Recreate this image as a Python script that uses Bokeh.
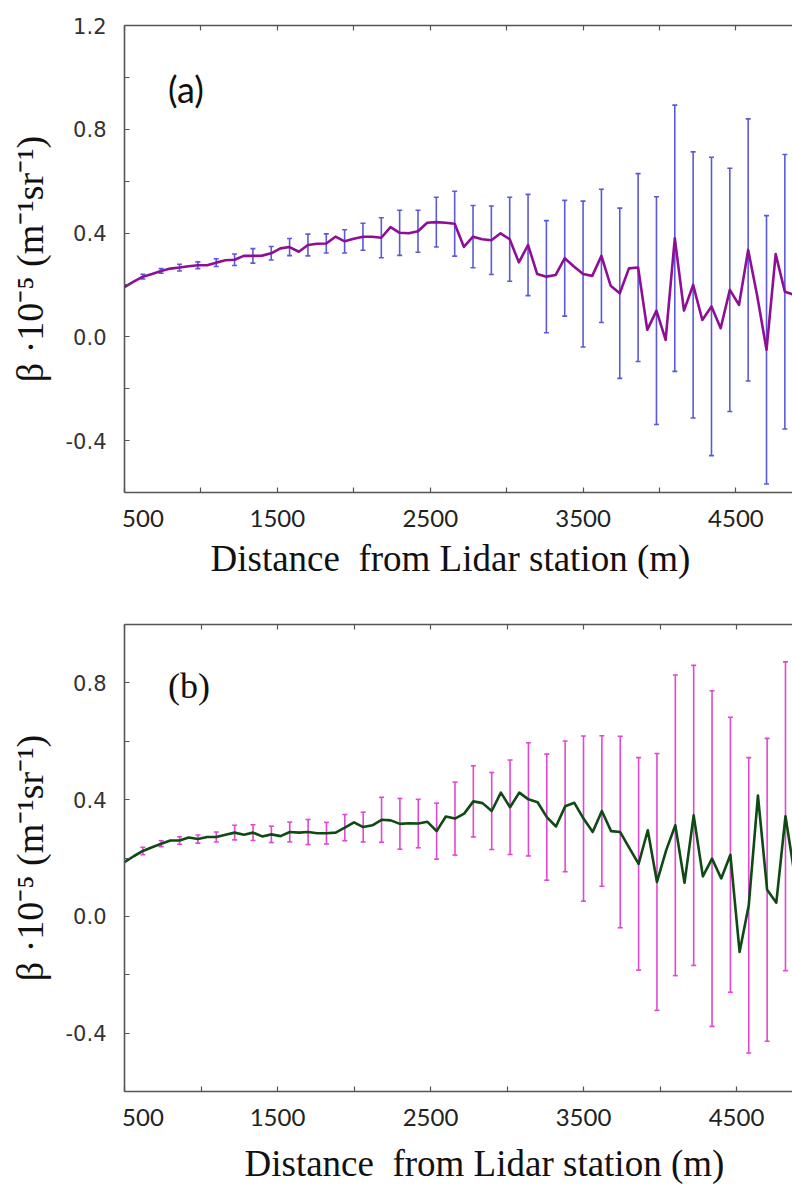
from bokeh.plotting import figure
from bokeh.layouts import column
from bokeh.models import FixedTicker, LinearAxis, Range1d, Label, Title, PrintfTickFormatter, ColumnDataSource
from bokeh.embed import file_html
from bokeh.resources import INLINE

# ---------------- data ----------------
step = 60
start = 500
n_pts = 74
distance = [start + step * i for i in range(n_pts)]

beta_a = [0.192, 0.213, 0.232, 0.242, 0.254, 0.263, 0.267, 0.272, 0.276, 0.276,
          0.286, 0.295, 0.297, 0.312, 0.312, 0.313, 0.322, 0.341, 0.346, 0.328,
          0.354, 0.359, 0.360, 0.386, 0.368, 0.378, 0.386, 0.386, 0.382, 0.423,
          0.401, 0.399, 0.407, 0.440, 0.442, 0.440, 0.436, 0.347, 0.386, 0.376,
          0.372, 0.399, 0.376, 0.287, 0.354, 0.242, 0.232, 0.238, 0.303, 0.271,
          0.242, 0.235, 0.312, 0.197, 0.168, 0.264, 0.267, 0.027, 0.101, -0.012,
          0.380, 0.101, 0.200, 0.065, 0.117, 0.033, 0.181, 0.123, 0.335, 0.155,
          -0.050, 0.319, 0.174, 0.162]

beta_b = [0.186, 0.206, 0.224, 0.237, 0.249, 0.260, 0.260, 0.270, 0.265, 0.272,
          0.272, 0.280, 0.287, 0.280, 0.287, 0.274, 0.281, 0.275, 0.289, 0.287,
          0.289, 0.285, 0.285, 0.287, 0.304, 0.322, 0.306, 0.312, 0.331, 0.329,
          0.317, 0.319, 0.318, 0.324, 0.292, 0.342, 0.335, 0.352, 0.394, 0.388,
          0.361, 0.424, 0.374, 0.424, 0.401, 0.391, 0.340, 0.308, 0.377, 0.389,
          0.335, 0.289, 0.361, 0.292, 0.289, 0.234, 0.180, 0.295, 0.118, 0.226,
          0.312, 0.115, 0.346, 0.137, 0.198, 0.130, 0.211, -0.122, 0.038, 0.414,
          0.091, 0.047, 0.343, 0.140]

# error bars at every second point, starting with the third one
bar_index = list(range(2, 73, 2))
err_a = [0.009, 0.009, 0.013, 0.013, 0.015, 0.022, 0.028, 0.026, 0.033, 0.042,
         0.037, 0.045, 0.052, 0.077, 0.087, 0.081, 0.096, 0.125, 0.120, 0.132,
         0.162, 0.195, 0.216, 0.223, 0.281, 0.257, 0.328, 0.362, 0.439, 0.513,
         0.513, 0.575, 0.469, 0.505, 0.517, 0.529]
err_b = [0.013, 0.010, 0.013, 0.014, 0.017, 0.025, 0.027, 0.028, 0.034, 0.043,
         0.037, 0.045, 0.051, 0.077, 0.087, 0.083, 0.096, 0.125, 0.122, 0.132,
         0.162, 0.194, 0.216, 0.224, 0.283, 0.258, 0.328, 0.364, 0.440, 0.515,
         0.514, 0.575, 0.471, 0.506, 0.519, 0.529]

x_major = [500, 1500, 2500, 3500, 4500]
x_minor = [1000, 2000, 3000, 4000]
x_all = [500, 1000, 1500, 2000, 2500, 3000, 3500, 4000, 4500]
y_major_a = [-0.4, 0.0, 0.4, 0.8, 1.2]
y_minor_a = [-0.6, -0.2, 0.2, 0.6, 1.0]
y_major_b = [-0.4, 0.0, 0.4, 0.8]
y_minor_b = [-0.6, -0.2, 0.2, 0.6, 1.0]

NBSP = "\u00a0"
x_title = "Distance" + NBSP + " from Lidar station (m)"
y_title = "\u03b2 \u00b710\u207b\u2075 (m\u207b\u00b9sr\u207b\u00b9)"

AXIS_COL = "#555555"


def style_axes(p, ymaj, ymin):
    for ax in p.xaxis:
        ax.ticker = FixedTicker(ticks=x_major, minor_ticks=x_minor)
    for ax in p.yaxis:
        ax.ticker = FixedTicker(ticks=ymaj, minor_ticks=ymin)
    # mirror ticks along the top edge (minor ticks only: no labels)
    top = LinearAxis(ticker=FixedTicker(ticks=[], minor_ticks=x_all))
    p.add_layout(top, "above")
    for ax in list(p.xaxis) + list(p.yaxis):
        ax.axis_line_color = AXIS_COL
        ax.axis_line_width = 1.6
        ax.major_tick_line_color = AXIS_COL
        ax.minor_tick_line_color = AXIS_COL
        ax.major_tick_in = 5
        ax.major_tick_out = 0
        ax.minor_tick_in = 5
        ax.minor_tick_out = 0
        ax.major_tick_line_width = 1.2
        ax.minor_tick_line_width = 1.2
    top.major_label_standoff = 0
    xa = p.below[0]
    xa.formatter = PrintfTickFormatter(format="%d")
    xa.major_label_overrides = {500: NBSP * 6 + "500"}
    xa.major_label_text_font = "Lato"
    xa.major_label_text_font_size = "24px"
    xa.major_label_text_color = "#222222"
    xa.major_label_standoff = 10
    ya = p.left[0]
    ya.formatter = PrintfTickFormatter(format="%.1f")
    ya.major_label_text_font = "DejaVu Sans"
    ya.major_label_text_font_size = "21px"
    ya.major_label_text_color = "#333333"
    ya.major_label_standoff = 18
    ya.axis_label = y_title
    ya.axis_label_text_font = "Liberation Serif"
    ya.axis_label_text_font_style = "normal"
    ya.axis_label_text_font_size = "38px"
    ya.axis_label_text_color = "#111111"
    ya.axis_label_standoff = 12


def make_panel(beta, err, line_col, bar_col, xr, yr, ymaj, ymin, left, top_b, bot_b, fw,
               tag, tag_font, tag_xy, title_offset, title_standoff):
    p = figure(output_backend="svg", toolbar_location=None,
               x_range=Range1d(*xr), y_range=Range1d(*yr),
               frame_width=fw, frame_height=467,
               min_border_left=left, min_border_right=0,
               min_border_top=top_b, min_border_bottom=bot_b)
    p.outline_line_color = None
    p.grid.visible = False
    p.background_fill_color = "white"
    p.border_fill_color = "white"

    bx = [distance[i] for i in bar_index]
    by = [beta[i] for i in bar_index]
    lo = [v - e for v, e in zip(by, err)]
    hi = [v + e for v, e in zip(by, err)]
    src = ColumnDataSource(dict(x=bx, lo=lo, hi=hi))
    p.segment(x0="x", y0="lo", x1="x", y1="hi", source=src, line_color=bar_col, line_width=1.6)
    p.scatter(x="x", y="lo", source=src, marker="dash", size=5, line_color=bar_col, line_width=1.6)
    p.scatter(x="x", y="hi", source=src, marker="dash", size=5, line_color=bar_col, line_width=1.6)
    p.line(distance, beta, line_color=line_col, line_width=2.6, line_join="round")

    style_axes(p, ymaj, ymin)

    p.add_layout(Label(x=tag_xy[0], y=tag_xy[1], text=tag, text_font=tag_font,
                       text_font_size="36px", text_color="#111111",
                       text_align="left", text_baseline="middle"))
    p.add_layout(Title(text=x_title, align="left", offset=title_offset,
                       standoff=title_standoff,
                       text_font="Liberation Serif", text_font_size="37px",
                       text_font_style="normal", text_color="#111111"), "below")
    return p


p1 = make_panel(beta_a, err_a, "#8e0f96", "#5a5ad8", (500, 4870), (-0.6, 1.2),
                y_major_a, y_minor_a, 124, 25, 120, 668,
                "(a)", "Lato", (785, 0.956), 86, 2)
p2 = make_panel(beta_b, err_b, "#0f4a14", "#e048d0", (500, 4892), (-0.6, 1.0),
                y_major_b, y_minor_b, 120, 12, 97, 672,
                "(b)", "Liberation Serif", (785, 0.791), 120, 14)

layout = column(p1, p2, spacing=0)
open("out.html", "w").write(file_html(layout, INLINE))
